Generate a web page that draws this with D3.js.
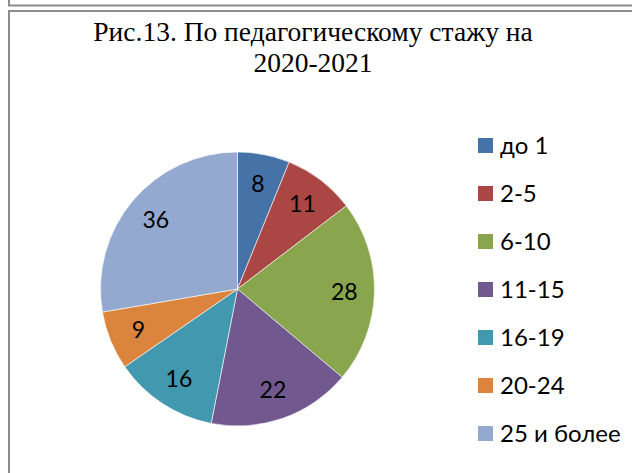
<!DOCTYPE html>
<html>
<head>
<meta charset="utf-8">
<script src="https://cdn.jsdelivr.net/npm/d3@7"></script>
<style>
  html, body { margin: 0; padding: 0; background: #fff; }
  svg { display: block; }
</style>
</head>
<body>
<div id="chart"></div>
<script>
// data
const categories = ['до 1', '2-5', '6-10', '11-15', '16-19', '20-24', '25 и более']
const values = [8, 11, 28, 22, 16, 9, 36]
const colors = ['#4572A7', '#AA4643', '#89A54E', '#71588F', '#4198AF', '#DB843D', '#93A9CF']
const titleLines = ['Рис.13. По педагогическому стажу на', '2020-2021']

const width = 632
const height = 473

const svg = d3.select('#chart')
  .append('svg')
  .attr('width', width)
  .attr('height', height)

// frames (the bottom of the previous one and the chart's own)
const frame = svg.append('g')
  .attr('fill', 'none')
  .attr('stroke', '#8c8c8c')
  .attr('stroke-width', 2)
frame.append('path').attr('d', 'M9,0 V5.5 H640')
frame.append('path').attr('d', 'M9,480 V11 H640')

// title
svg.append('g')
  .selectAll('text')
  .data(titleLines)
  .join('text')
  .attr('x', 313)
  .attr('y', (d, i) => 41 + i * 31)
  .attr('text-anchor', 'middle')
  .attr('font-family', '"Liberation Serif", "Times New Roman", serif')
  .attr('font-size', 27.5)
  .attr('fill', '#000')
  .text(d => d)

// pie
const radius = 137
const pieG = svg.append('g').attr('transform', 'translate(237.5,289)')

const pie = d3.pie().sort(null).value(d => d)
const arcs = pie(values)
const arc = d3.arc().innerRadius(0).outerRadius(radius)
const labelArc = d3.arc().innerRadius(radius * 0.78).outerRadius(radius * 0.78)

pieG.selectAll('path')
  .data(arcs)
  .join('path')
  .attr('d', arc)
  .attr('fill', (d, i) => colors[i])
  .attr('stroke', '#fff')
  .attr('stroke-width', 0.6)

pieG.selectAll('text')
  .data(arcs)
  .join('text')
  .attr('transform', d => `translate(${labelArc.centroid(d)})`)
  .attr('text-anchor', 'middle')
  .attr('dy', '0.36em')
  .attr('font-family', 'Lato, "Open Sans", sans-serif')
  .attr('font-size', 23)
  .attr('fill', '#000')
  .text(d => d.data)

// legend
const legend = svg.append('g').attr('transform', 'translate(478,138)')
const item = legend.selectAll('g')
  .data(categories)
  .join('g')
  .attr('transform', (d, i) => `translate(0,${i * 48})`)

item.append('rect')
  .attr('width', 15)
  .attr('height', 15)
  .attr('fill', (d, i) => colors[i])

item.append('text')
  .attr('x', 22)
  .attr('y', 7.5)
  .attr('dy', '0.36em')
  .attr('font-family', 'Lato, "Open Sans", sans-serif')
  .attr('font-size', 24)
  .attr('fill', '#000')
  .text(d => d)
</script>
</body>
</html>
